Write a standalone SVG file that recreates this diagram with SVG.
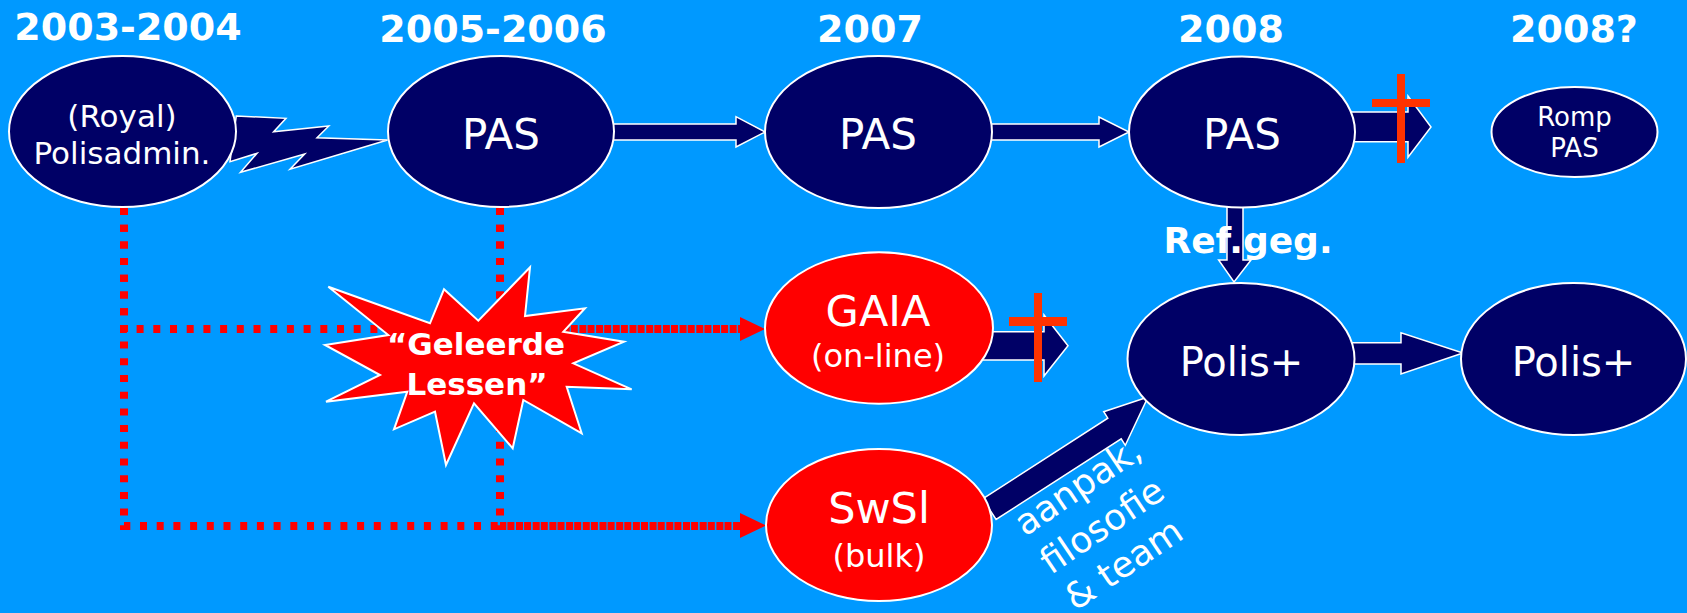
<svg xmlns="http://www.w3.org/2000/svg" width="1687" height="613" viewBox="0 0 1687 613">
<style>
.bg{fill:#0099ff}
.node{fill:#000066;stroke:#ffffff;stroke-width:2}
.rnode{fill:#ff0000;stroke:#ffffff;stroke-width:2}
.t{font-family:"DejaVu Sans","Liberation Sans",sans-serif;fill:#ffffff;text-anchor:middle}
.title{font-family:"DejaVu Sans","Liberation Sans",sans-serif;font-weight:bold;font-size:38px;fill:#ffffff;text-anchor:middle}
.blk{fill:#000066;stroke:#ffffff;stroke-width:1.5;stroke-linejoin:miter}
.dot{fill:none;stroke:#ff0000;stroke-width:8;stroke-dasharray:7 9.7}
.rhead{fill:#ff0000}
.cross{fill:#ff3300}
</style>
<rect class="bg" x="0" y="0" width="1687" height="613"/>

<g id="titles">
<text class="title" x="128" y="39.5">2003-2004</text>
<text class="title" x="493" y="42">2005-2006</text>
<text class="title" x="870" y="42">2007</text>
<text class="title" x="1231" y="42">2008</text>
<text class="title" x="1574" y="42">2008?</text>
</g>

<g id="connectors">
<path class="dot" d="M124,208 V329 H740"/>
<path class="dot" d="M124,208 V526 H740"/>
<path class="dot" d="M500,208 V329 H740"/>
<path class="dot" d="M500,208 V526 H740"/>
<polygon class="rhead" points="740,317 765,329 740,341"/>
<polygon class="rhead" points="740,513 766,525.5 740,538"/>
<polygon class="blk" points="236.3,116 286,118.3 273.6,131.7 328.8,126 317,137.7 387.6,140 290,169.3 304.7,154 240.5,172.3 257,153.3 230,161.7"/>
<polygon class="blk" points="600,124 736,124 736,116.7 765,132 736,147 736,140 600,140"/>
<polygon class="blk" points="980,124 1099,124 1099,117 1129,132 1099,147 1099,140 980,140"/>
<polygon class="blk" points="1340,112 1408,112 1408,96 1431,127 1408,157.3 1408,141.7 1340,141.7"/>
<polygon class="blk" points="960,331.7 1044,331.7 1044,315 1068,345.7 1044,376 1044,360 960,360"/>
<polygon class="blk" points="1227,195 1227,260 1218.6,260 1234,282 1251,260 1243,260 1243,195"/>
<polygon class="blk" points="1345,342.7 1401,342.7 1401,332.7 1463,353 1401,374 1401,364 1345,364"/>
<polygon class="blk" points="982.7,498.9 1107.8,418.2 1103.7,411.7 1148,397 1125.3,445.3 1121.2,438.8 996.1,519.5"/>
</g>

<g id="node-royal">
<ellipse class="node" cx="122.5" cy="131.5" rx="113.5" ry="75.5"/>
<text class="t" x="122" y="127" font-size="31">(Royal)</text>
<text class="t" x="122" y="164" font-size="31">Polisadmin.</text>
</g>
<g id="node-pas-2005">
<ellipse class="node" cx="501" cy="131.5" rx="113" ry="75.5"/>
<text class="t" x="501" y="149" font-size="42">PAS</text>
</g>
<g id="node-pas-2007">
<ellipse class="node" cx="878.5" cy="132" rx="113.5" ry="76"/>
<text class="t" x="878" y="149" font-size="42">PAS</text>
</g>
<g id="node-pas-2008">
<ellipse class="node" cx="1242" cy="132" rx="113" ry="75.5"/>
<text class="t" x="1242" y="149" font-size="42">PAS</text>
</g>
<g id="node-romp-pas">
<ellipse class="node" cx="1574.5" cy="132" rx="83" ry="45"/>
<text class="t" x="1574.5" y="126" font-size="26">Romp</text>
<text class="t" x="1574.5" y="157" font-size="26">PAS</text>
</g>
<g id="node-gaia">
<ellipse class="rnode" cx="879" cy="328" rx="114" ry="75.7"/>
<text class="t" x="878" y="326" font-size="43">GAIA</text>
<text class="t" x="878" y="367" font-size="32">(on-line)</text>
</g>
<g id="node-swsl">
<ellipse class="rnode" cx="879" cy="525" rx="113" ry="76"/>
<text class="t" x="879" y="523" font-size="43">SwSl</text>
<text class="t" x="879" y="567" font-size="32">(bulk)</text>
</g>
<g id="node-polis-1">
<ellipse class="node" cx="1241" cy="359" rx="113.5" ry="76"/>
<text class="t" x="1241.5" y="376" font-size="40">Polis+</text>
</g>
<g id="node-polis-2">
<ellipse class="node" cx="1573.5" cy="359" rx="112.5" ry="76"/>
<text class="t" x="1573.5" y="376" font-size="40">Polis+</text>
</g>

<g id="node-geleerde-lessen">
<polygon fill="#ff0000" stroke="#ffffff" stroke-width="2" points="328.3,286.7 430,323.3 444,289.3 478.3,320.7 530,267.3 525,316 585,308.3 563.3,331.7 624,341.7 573.3,363.3 631.7,389.3 566.7,386.7 581.7,433.3 523.3,400 512.7,448.3 474,403.3 446,465 435,411.7 394,429.3 407.3,391.7 326,401.7 380,375 325,345 388.3,335"/>
<text class="t" x="476" y="355" font-size="31" font-weight="bold">“Geleerde</text>
<text class="t" x="477" y="395" font-size="31" font-weight="bold">Lessen”</text>
</g>

<g id="marks">
<rect class="cross" x="1397" y="74" width="8" height="89"/>
<rect class="cross" x="1372" y="99" width="58" height="8"/>
<rect class="cross" x="1034" y="293" width="8" height="89"/>
<rect class="cross" x="1009" y="317" width="58" height="9"/>
</g>

<g id="labels">
<text class="t" x="1248" y="253" font-size="36" font-weight="bold">Ref.geg.</text>
<text class="t" transform="translate(1025,537) rotate(-34)" font-size="36" style="text-anchor:start">
<tspan x="0" y="0">aanpak,</tspan>
<tspan x="0" y="46">filosofie</tspan>
<tspan x="0" y="90">&amp; team</tspan>
</text>
</g>
</svg>
